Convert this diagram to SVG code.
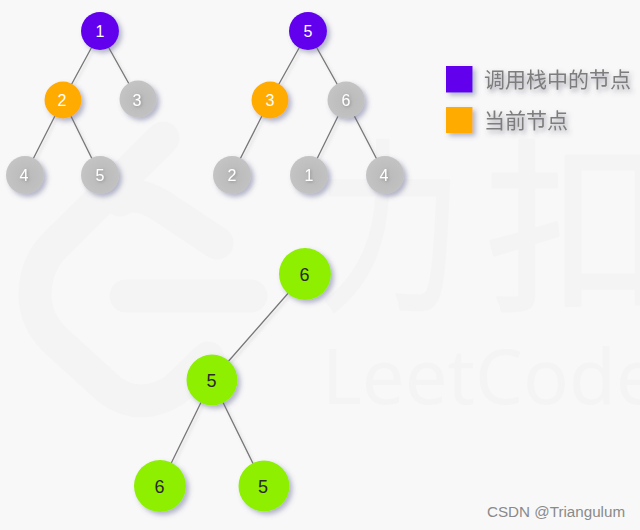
<svg xmlns="http://www.w3.org/2000/svg" width="640" height="530" viewBox="0 0 640 530">
<defs>
<filter id="sh" x="-30%" y="-30%" width="170%" height="170%"><feDropShadow dx="3" dy="3" stdDeviation="2.500" flood-color="#5f6390" flood-opacity="0.45"/></filter>
<filter id="ts" x="-10%" y="-30%" width="125%" height="170%"><feDropShadow dx="2" dy="3" stdDeviation="2.500" flood-color="#50506a" flood-opacity="0.55"/></filter>
<filter id="ns" x="-100%" y="-100%" width="300%" height="300%"><feDropShadow dx="1" dy="1" stdDeviation="1.500" flood-color="#777" flood-opacity="0.6"/></filter>
<filter id="ls" x="-5%" y="-5%" width="110%" height="110%"><feDropShadow dx="2" dy="2" stdDeviation="1.500" flood-color="#777" flood-opacity="0.25"/></filter>
<radialGradient id="g" cx="55%" cy="55%" r="60%"><stop offset="0" stop-color="#bababa"/><stop offset="0.6" stop-color="#c0c0c0"/><stop offset="1" stop-color="#c5c5c5"/></radialGradient>
</defs>
<style>
.lt{font-family:"Liberation Sans",Arial,sans-serif;font-size:16px;fill:#fff;text-anchor:middle}
.gt{font-family:"Liberation Sans",Arial,sans-serif;font-size:18px;fill:#2a2a2a;text-anchor:middle}
.cn{font-family:"Noto Sans CJK SC",sans-serif;font-size:21px;fill:#7d7d7d}
.e{stroke:#777;stroke-width:1.3;fill:none}
.p{fill:#6200ee}.o{fill:#ffab00}.n{fill:url(#g)}.v{fill:#8fef00}
.w{fill:none;stroke:#f4f4f4;stroke-width:33;stroke-linecap:round;stroke-linejoin:round}
.wt{fill:#f4f4f4;stroke:#f4f4f4;stroke-linejoin:round;font-family:"Noto Sans CJK SC",sans-serif;font-size:185px;stroke-width:3}
.wl{fill:#f4f4f4;font-family:"Noto Sans",sans-serif;font-size:76px}
</style>
<rect width="640" height="530" fill="#f8f8f8"/>
<g id="watermark">
<path class="w" d="M163 138L55 245Q35 265 35 295Q35 320 55 340L110 390Q140 412 175 390L208 358"/>
<path class="w" d="M120 200Q135 190 160 205L217 243"/>
<path class="w" d="M126 296H251"/>
<text class="wt" transform="translate(318 296) scale(0.78 1)">力</text>
<text class="wt" x="485" y="296">扣</text>
<text class="wl" x="322" y="404">LeetCode</text>
</g>
<g id="connectors" filter="url(#ls)">
<path class="e" d="M100 32L63 100M100 32L138 100M63 100L25 175M63 100L100 175"/>
<path class="e" d="M308 32L270 100M308 32L346 100M270 100L232 175M346 100L309 175M346 100L385 175"/>
<path class="e" d="M305 274L212 380M212 380L160 486M212 380L264 486"/>
</g>
<g id="n1"><circle class="p" cx="100" cy="31" r="19" filter="url(#sh)"/><text class="lt" x="100" y="37">1</text></g>
<g id="n2"><circle class="o" cx="63" cy="100" r="18.500" filter="url(#sh)"/><text class="lt" x="62" y="106">2</text></g>
<g id="n3"><circle class="n" cx="138" cy="99" r="18.500" filter="url(#sh)"/><text class="lt" x="137" y="106" filter="url(#ns)">3</text></g>
<g id="n4"><circle class="n" cx="25" cy="175" r="19" filter="url(#sh)"/><text class="lt" x="24" y="181" filter="url(#ns)">4</text></g>
<g id="n5"><circle class="n" cx="100" cy="175" r="19" filter="url(#sh)"/><text class="lt" x="100" y="181" filter="url(#ns)">5</text></g>
<g id="m5"><circle class="p" cx="308" cy="31" r="19" filter="url(#sh)"/><text class="lt" x="308" y="37">5</text></g>
<g id="m3"><circle class="o" cx="270" cy="100" r="18.500" filter="url(#sh)"/><text class="lt" x="270" y="106">3</text></g>
<g id="m6"><circle class="n" cx="346" cy="100" r="18.500" filter="url(#sh)"/><text class="lt" x="346" y="106" filter="url(#ns)">6</text></g>
<g id="m2"><circle class="n" cx="232" cy="175" r="19" filter="url(#sh)"/><text class="lt" x="232" y="181" filter="url(#ns)">2</text></g>
<g id="m1"><circle class="n" cx="309" cy="175" r="19" filter="url(#sh)"/><text class="lt" x="309" y="181" filter="url(#ns)">1</text></g>
<g id="m4"><circle class="n" cx="385" cy="175" r="19" filter="url(#sh)"/><text class="lt" x="384" y="181" filter="url(#ns)">4</text></g>
<g id="r6"><circle class="v" cx="305" cy="274" r="26" filter="url(#sh)"/><text class="gt" x="304.500" y="281">6</text></g>
<g id="r5"><circle class="v" cx="212" cy="380" r="25.500" filter="url(#sh)"/><text class="gt" x="211.500" y="387">5</text></g>
<g id="r6b"><circle class="v" cx="160" cy="486" r="26" filter="url(#sh)"/><text class="gt" x="159.500" y="493">6</text></g>
<g id="r5b"><circle class="v" cx="264" cy="486" r="25.500" filter="url(#sh)"/><text class="gt" x="263" y="493">5</text></g>
<g id="legend-stack"><rect class="p" x="446" y="66" width="26.500" height="26.500" filter="url(#sh)"/><text class="cn" x="484" y="86.500" filter="url(#ts)">调用栈中的节点</text></g>
<g id="legend-current"><rect class="o" x="446" y="107" width="26.500" height="26" filter="url(#sh)"/><text class="cn" x="484" y="127.500" filter="url(#ts)">当前节点</text></g>
<text x="487" y="517" font-family="Liberation Sans,Arial,sans-serif" font-size="15.200" fill="#8a8a8a">CSDN @Triangulum</text>
</svg>
